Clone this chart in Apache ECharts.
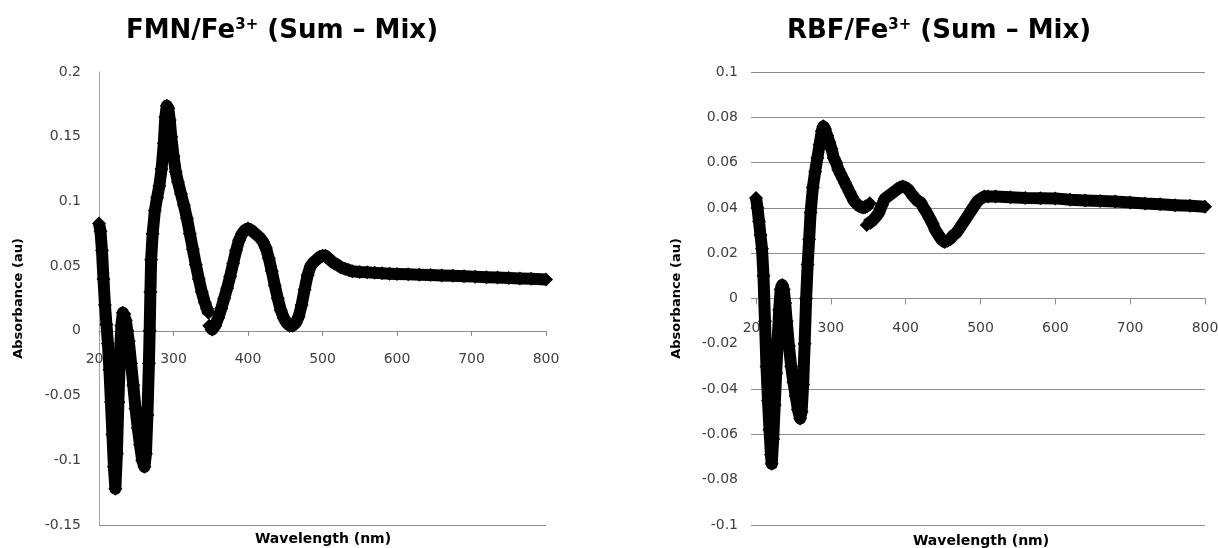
<!DOCTYPE html>
<html>
<head>
<meta charset="utf-8">
<script src="https://cdn.jsdelivr.net/npm/echarts@6/dist/echarts.min.js"></script>
<style>
html,body{margin:0;padding:0;background:#fff;}
#chart{width:1218px;height:548px;}
</style>
</head>
<body>
<div id="chart"></div>
<script>
// ---- Data ----
// FMN/Fe3+ difference spectrum; null marks the break in the trace near 347 nm
const fmnWavelength = [200,202,204,206,208,210,212,214,216,218,220,222,224,226,228,230,232,234,236,238,
  240,243,246,249,252,255,258,261,263,265,267,268,269,270,272,275,278,281,284,287,289,291,293,295,297,300,
  303,306,310,314,318,322,326,330,334,338,342,345,347,347.5,
  348,352,356,360,364,368,372,376,380,384,388,392,396,400,404,408,412,416,420,424,428,432,436,440,444,448,
  452,456,460,464,468,472,476,480,484,488,492,496,500,504,508,512,516,520,525,530,535,540,
  550,560,570,580,590,600,615,630,645,660,675,690,705,720,735,750,765,780,800];
const fmnAbsorbance = [0.083,0.077,0.062,0.040,0.020,0.005,-0.010,-0.030,-0.055,-0.080,-0.105,-0.122,-0.095,-0.055,-0.020,0.004,0.014,0.013,0.008,0.000,
  -0.008,-0.025,-0.042,-0.060,-0.075,-0.088,-0.100,-0.105,-0.095,-0.065,-0.025,0.000,0.030,0.055,0.075,0.093,0.103,0.112,0.125,0.145,0.165,0.174,0.172,0.163,0.150,0.135,
  0.123,0.115,0.106,0.097,0.087,0.075,0.063,0.051,0.040,0.030,0.022,0.017,0.014,null,
  0.004,0.001,0.004,0.010,0.017,0.025,0.033,0.042,0.052,0.062,0.070,0.075,0.078,0.079,0.078,0.076,0.074,0.072,0.069,0.064,0.056,0.046,0.035,0.025,0.016,0.010,
  0.006,0.004,0.004,0.006,0.011,0.020,0.032,0.043,0.050,0.053,0.055,0.057,0.058,0.058,0.056,0.054,0.052,0.051,0.049,0.048,0.047,0.046,
  0.0455,0.0452,0.0448,0.0445,0.0442,0.0440,0.0437,0.0434,0.0431,0.0428,0.0425,0.0422,0.0419,0.0415,0.0412,0.0409,0.0405,0.0402,0.0397];

// RBF/Fe3+ difference spectrum; null marks the break in the trace near 352 nm
const rbfWavelength = [200,202,204,206,208,210,212,214,216,218,220,221,223,225,227,229,231,233,235,237,239,241,244,247,250,253,256,259,
  261,263,265,267,269,271,273,276,279,282,285,288,290,292,295,298,301,304,307,310,313,316,319,322,325,328,331,334,337,340,343,346,349,352,352.5,
  348,352,356,360,364,368,372,376,380,384,388,392,396,400,404,408,412,416,420,424,428,432,436,440,444,448,452,456,460,464,468,472,476,480,484,488,492,496,500,505,510,
  520,540,560,580,600,620,640,660,680,700,720,740,760,780,800];
const rbfAbsorbance = [0.0444,0.040,0.034,0.028,0.022,0.010,-0.010,-0.030,-0.045,-0.058,-0.069,-0.073,-0.062,-0.047,-0.033,-0.018,-0.005,0.004,0.006,0.004,-0.002,-0.010,-0.021,-0.030,-0.037,-0.043,-0.049,-0.053,
  -0.050,-0.038,-0.020,0.000,0.015,0.026,0.038,0.049,0.056,0.062,0.068,0.074,0.076,0.075,0.072,0.069,0.066,0.062,0.060,0.057,0.055,0.053,0.051,0.049,0.047,0.045,0.043,0.042,0.041,0.0405,0.0402,0.0403,0.041,0.042,null,
  0.0325,0.0335,0.0345,0.036,0.0378,0.041,0.044,0.045,0.046,0.047,0.048,0.049,0.0495,0.049,0.048,0.046,0.0445,0.043,0.0425,0.040,0.038,0.0355,0.033,0.030,0.028,0.026,0.025,0.0255,0.0265,0.028,0.029,0.031,0.033,0.035,0.037,0.039,0.041,0.043,0.044,0.045,0.045,
  0.045,0.0447,0.0444,0.0443,0.0442,0.0436,0.0433,0.0431,0.0428,0.0424,0.0419,0.0416,0.0412,0.0409,0.0405];

// Axis scales / tick labels
const wavelengthTicks = {min: 200, max: 800, interval: 100};
const fmnTicks = {min: -0.15, max: 0.2, interval: 0.05};
const rbfTicks = {min: -0.1, max: 0.1, interval: 0.02};
const chartTitles = ['{b|FMN/Fe}{s|3+}{b| (Sum \u2013 Mix)}', '{b|RBF/Fe}{s|3+}{b| (Sum \u2013 Mix)}'];
const xAxisTitle = 'Wavelength (nm)';
const yAxisTitle = 'Absorbance (au)';

// ---- Chart ----
const FONT = "'DejaVu Sans', sans-serif";
const toPairs = (w, a) => w.map((x, i) => [x, a[i] === null ? '-' : a[i]]);
const labelStyle = {fontFamily: FONT, fontSize: 14, color: '#404040'};
const nameStyle = {fontFamily: FONT, fontSize: 13, fontWeight: 'bold', color: '#000'};
const titleRich = {
  b: {fontFamily: FONT, fontSize: 26, fontWeight: 'bold', color: '#000'},
  s: {fontFamily: FONT, fontSize: 15, fontWeight: 'bold', color: '#000', verticalAlign: 'top'}
};
const GRAY = '#8c8c8c';
const NONE = 'rgba(0,0,0,0)';

// plot boxes
const L = {left: 99, top: 72, width: 447, height: 453};
const R = {left: 756, top: 72, width: 449, height: 453};
const RG = {left: 751, top: 72, width: 454, height: 453};
// height from top of plot down to the zero line (x axis crosses at 0)
const zeroH = (box, t) => box.height * t.max / (t.max - t.min);
// the FMN value axis expressed in whole tick steps (exact integers, used for the bottom border line)
const fmnStepMin = Math.round(fmnTicks.min / fmnTicks.interval);
const fmnStepMax = Math.round(fmnTicks.max / fmnTicks.interval);

const seriesStyle = {
  type: 'line',
  symbol: 'diamond',
  symbolSize: 14,
  showSymbol: true,
  clip: false,
  connectNulls: false,
  itemStyle: {color: '#000'},
  lineStyle: {color: '#000', width: 12, join: 'round'},
  emphasis: {disabled: true},
  z: 5
};
const hiddenAxis = (gridIndex, min, max) => ({gridIndex, type: 'value', min, max, show: false});
const xLabelAxis = (gridIndex, tickLen, margin) => ({
  gridIndex, type: 'value', position: 'bottom',
  min: wavelengthTicks.min, max: wavelengthTicks.max, interval: wavelengthTicks.interval,
  axisLine: {show: true, onZero: false, lineStyle: {color: GRAY, width: 1}},
  axisTick: {show: true, length: tickLen, lineStyle: {color: GRAY}},
  axisLabel: Object.assign({margin: margin}, labelStyle),
  splitLine: {show: false}
});
const fmnBorderColors = [];
for (let i = fmnStepMin; i <= fmnStepMax; i++) fmnBorderColors.push(i === fmnStepMin ? GRAY : NONE);

const chart = echarts.init(document.getElementById('chart'), null, {renderer: 'canvas'});
chart.setOption({
  animation: false,
  backgroundColor: '#fff',
  title: [
    {text: chartTitles[0], left: 282, top: 18, textAlign: 'center', padding: 0, textStyle: {rich: titleRich}},
    {text: chartTitles[1], left: 939, top: 18, textAlign: 'center', padding: 0, textStyle: {rich: titleRich}},
    {text: xAxisTitle, left: 323, top: 532, textAlign: 'center', padding: 0,
      textStyle: {fontFamily: FONT, fontSize: 14, fontWeight: 'bold', color: '#000'}},
    {text: xAxisTitle, left: 981, top: 534, textAlign: 'center', padding: 0,
      textStyle: {fontFamily: FONT, fontSize: 14, fontWeight: 'bold', color: '#000'}}
  ],
  grid: [
    Object.assign({outerBoundsMode: 'none'}, L),                                   // 0 FMN data
    Object.assign({outerBoundsMode: 'none'}, L, {height: zeroH(L, fmnTicks)}),    // 1 FMN x labels at y=0
    Object.assign({outerBoundsMode: 'none'}, RG),                                  // 2 RBF gridlines + y labels
    Object.assign({outerBoundsMode: 'none'}, R),                                   // 3 RBF data
    Object.assign({outerBoundsMode: 'none'}, R, {height: zeroH(R, rbfTicks)}),    // 4 RBF x labels at y=0
    Object.assign({outerBoundsMode: 'none'}, L)                                    // 5 FMN bottom border line
  ],
  xAxis: [
    hiddenAxis(0, wavelengthTicks.min, wavelengthTicks.max),
    xLabelAxis(1, 5, 22),
    hiddenAxis(2, 0, 1),
    hiddenAxis(3, wavelengthTicks.min, wavelengthTicks.max),
    xLabelAxis(4, 6, 23),
    hiddenAxis(5, 0, 1)
  ],
  yAxis: [
    {gridIndex: 0, type: 'value', min: fmnTicks.min, max: fmnTicks.max, interval: fmnTicks.interval,
      axisLine: {show: true, onZero: false, lineStyle: {color: '#a6a6a6', width: 1}},
      axisTick: {show: false},
      axisLabel: Object.assign({margin: 18}, labelStyle),
      splitLine: {show: false},
      name: yAxisTitle, nameLocation: 'middle', nameGap: 74, nameTextStyle: nameStyle},
    hiddenAxis(1, 0, 1),
    {gridIndex: 2, type: 'value', min: rbfTicks.min, max: rbfTicks.max, interval: rbfTicks.interval,
      axisLine: {show: false}, axisTick: {show: false},
      axisLabel: Object.assign({margin: 13}, labelStyle),
      splitLine: {show: true, lineStyle: {color: [GRAY, NONE, GRAY, GRAY, NONE, GRAY, GRAY, GRAY, GRAY, GRAY, GRAY]}},
      name: yAxisTitle, nameLocation: 'middle', nameGap: 68, nameTextStyle: nameStyle},
    hiddenAxis(3, rbfTicks.min, rbfTicks.max),
    hiddenAxis(4, 0, 1),
    {gridIndex: 5, type: 'value', min: fmnStepMin, max: fmnStepMax, interval: 1,
      axisLine: {show: false}, axisTick: {show: false}, axisLabel: {show: false},
      splitLine: {show: true, lineStyle: {color: fmnBorderColors}}}
  ],
  series: [
    Object.assign({name: 'FMN', xAxisIndex: 0, yAxisIndex: 0, data: toPairs(fmnWavelength, fmnAbsorbance)}, seriesStyle),
    Object.assign({name: 'RBF', xAxisIndex: 3, yAxisIndex: 3, data: toPairs(rbfWavelength, rbfAbsorbance)}, seriesStyle)
  ]
});
</script>
</body>
</html>
